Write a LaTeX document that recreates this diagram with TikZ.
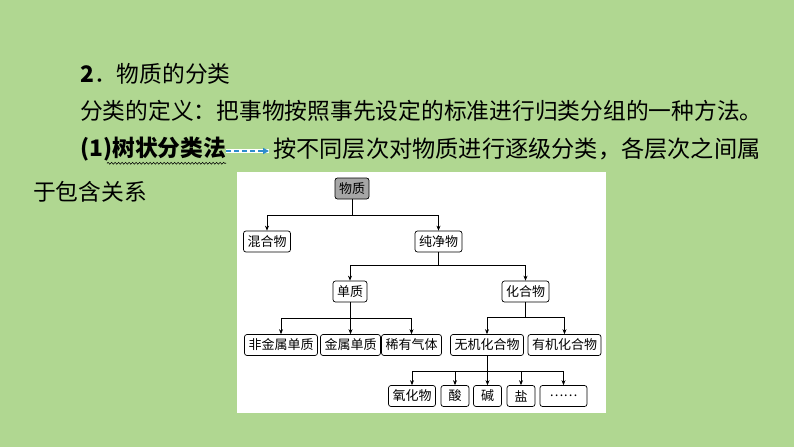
\documentclass[tikz,border=0pt]{standalone}
\usepackage{fontspec}
\setmainfont{Noto Sans CJK SC}
\usetikzlibrary{positioning,arrows.meta,decorations.pathmorphing}

\definecolor{slidegreen}{RGB}{176,215,145}
\definecolor{arrowblue}{RGB}{45,140,205}
\definecolor{rootgray}{RGB}{166,166,166}

\tikzset{
  cls/.style={draw, rounded corners=2.5pt, line width=0.7pt, fill=white,
    inner xsep=4pt, inner ysep=0pt, minimum height=21pt, minimum width=28pt,
    font=\fontsize{13}{13}\selectfont},
  txt/.style={anchor=west, inner sep=0pt, font=\fontsize{22.75}{22.75}\selectfont},
  branch/.style={line width=0.7pt, -{Stealth[length=5pt,width=4pt]}},
}

\begin{document}
\begin{tikzpicture}[x=1pt, y=-1pt]
        % Background and panel
        \fill[slidegreen] (0,0) rectangle (794,447);
        \fill[white] (237,172) rectangle (606,413);

        % Text lines
        \node[txt] (title) at (80,74) {\textbf{2}．物质的分类};
        \node[txt] (defn)  at (80,111) {分类的定义：把事物按照事先设定的标准进行归类分组的一种方法。};
        \node[txt] (fenlei) at (80,149) {\textbf{(1)树状分类法}};
        \node[txt, font=\fontsize{23.2}{23.2}\selectfont] (an) at (273,149) {按不同层次对物质进行逐级分类，各层次之间属};
        \node[txt] (baohan) at (33,192) {于包含关系};

        \draw[decorate, decoration={snake, amplitude=0.9pt, segment length=3.5pt}, line width=0.6pt]
            ([xshift=27pt, yshift=-2pt]fenlei.south west) -- ([yshift=-2pt]fenlei.south east);
        \draw[white, line width=4pt] ([yshift=-2pt]fenlei.east) -- ([yshift=-2pt, xshift=-4pt]an.west);
        \draw[arrowblue, line width=1.6pt, dash pattern=on 5pt off 3pt, -{Triangle[length=6pt,width=6pt]}]
            ([yshift=-2pt]fenlei.east) -- ([yshift=-2pt, xshift=-4pt]an.west);

        % Define nodes
        \node[cls, fill=rootgray] (wuzhi) at (352,188.5) {物质};
        \node[cls] (hunhe)    at (267,241.5) {混合物};
        \node[cls] (chunjing) at (438.5,241.5) {纯净物};
        \node[cls] (danzhi)   at (350,291.5) {单质};
        \node[cls] (huahe)    at (525.5,291.5) {化合物};
        \node[cls] (feijinshu) at (281,345) {非金属单质};
        \node[cls] (jinshu)   at (350.5,345) {金属单质};
        \node[cls] (xiyou)    at (411.5,345) {稀有气体};
        \node[cls] (wuji)     at (487,345) {无机化合物};
        \node[cls] (youji)    at (564.5,345) {有机化合物};
        \node[cls] (yanghua)  at (412,396) {氧化物};
        \node[cls] (suan)     at (455,396) {酸};
        \node[cls] (jian)     at (487.5,396) {碱};
        \node[cls] (yan)      at (521,396) {盐};
        \node[cls, minimum width=47pt] (etc) at (563.5,396) {……};

        % Connect the nodes
        \foreach \c in {hunhe,chunjing}
            \draw[branch] (wuzhi.south) -- ++(0,16) -| (\c.north);
        \foreach \c in {danzhi,huahe}
            \draw[branch] (chunjing.south) -- ++(0,13) -| (\c.north);
        \foreach \c in {feijinshu,jinshu,xiyou}
            \draw[branch] (danzhi.south) -- ++(0,16) -| (\c.north);
        \foreach \c in {wuji,youji}
            \draw[branch] (huahe.south) -- ++(0,15) -| (\c.north);
        \foreach \c in {yanghua,suan,jian,yan,etc}
            \draw[branch] (wuji.south) -- ++(0,15) -| (\c.north);

    \end{tikzpicture}
\end{document}
